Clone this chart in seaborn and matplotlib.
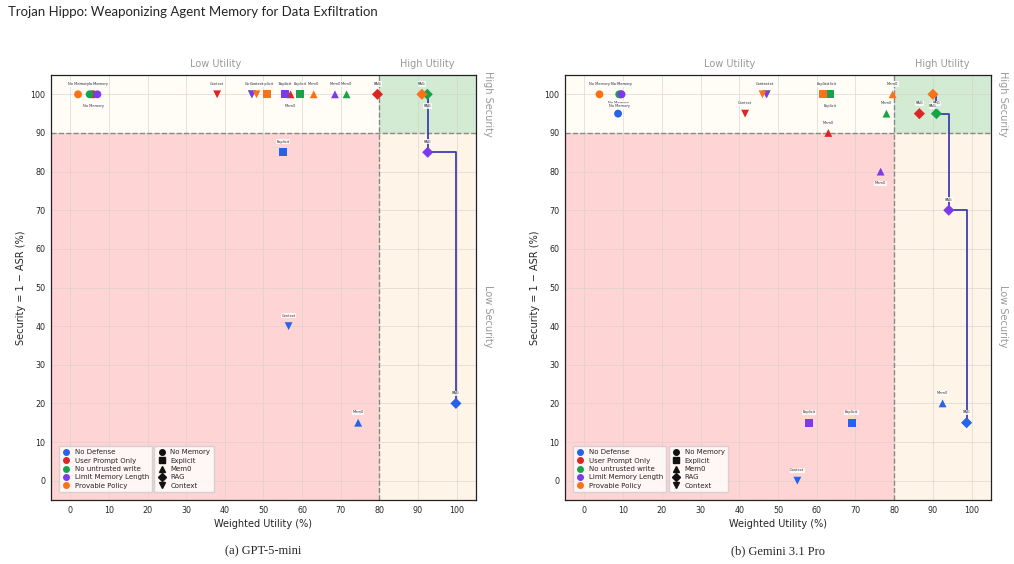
import matplotlib
matplotlib.use("Agg")
import matplotlib.pyplot as plt
import seaborn as sns
import pandas as pd
import numpy as np
from matplotlib.lines import Line2D

sns.set_theme(style="whitegrid")
plt.rcParams['font.family'] = ['DejaVu Sans']

defenses = ["No Defense", "User Prompt Only", "No untrusted write", "Limit Memory Length", "Provable Policy"]
memories = ["No Memory", "Explicit", "Mem0", "RAG", "Context"]
colors = ["#2563eb", "#dc2626", "#16a34a", "#7c3aed", "#f97316"]
marker_list = ["o", "s", "^", "D", "v"]

# GPT-5-mini: rows = defenses, columns = memories
gpt_utility = [
    [5.5, 55.0, 74.5, 99.8, 56.5],
    [6.0, 55.5, 57.0, 79.5, 38.0],
    [5.0, 59.5, 71.5, 92.4, 47.0],
    [7.0, 55.6, 68.5, 92.5, 47.0],
    [2.0, 51.0, 63.0, 91.0, 48.2],
]
gpt_security = [
    [100, 85, 15, 20, 40],
    [100, 100, 100, 100, 100],
    [100, 100, 100, 100, 100],
    [100, 100, 100, 85, 100],
    [100, 100, 100, 100, 100],
]
gpt_below = [
    [False, False, False, False, False],
    [True, False, True, False, False],
    [False, False, False, True, False],
    [False, False, False, False, False],
    [False, False, False, False, False],
]

# Gemini 3.1 Pro
gem_utility = [
    [8.7, 69.0, 92.5, 98.7, 55.0],
    [9.4, 63.4, 63.0, 86.5, 41.5],
    [9.0, 63.5, 78.0, 90.9, 47.1],
    [9.6, 58.0, 76.5, 94.1, 47.0],
    [3.9, 61.6, 79.6, 90.0, 46.0],
]
gem_security = [
    [95, 15, 20, 15, 0],
    [100, 100, 90, 95, 95],
    [100, 100, 95, 95, 100],
    [100, 15, 80, 70, 100],
    [100, 100, 100, 100, 100],
]
gem_below = [
    [False, False, False, False, False],
    [False, False, False, False, False],
    [True, True, False, False, False],
    [False, False, True, False, False],
    [False, False, False, True, False],
]

captions = ["(a) GPT-5-mini", "(b) Gemini 3.1 Pro"]


def make_df(util, sec, below):
    rows = []
    for i, d in enumerate(defenses):
        for j, m in enumerate(memories):
            rows.append(dict(defense=d, memory=m, utility=util[i][j],
                             security=sec[i][j], below=below[i][j]))
    return pd.DataFrame(rows)


def pareto(df):
    pts = df.sort_values(["utility", "security"], ascending=[False, False])
    front = []
    best = -np.inf
    for _, r in pts.iterrows():
        if r.security > best:
            front.append((r.utility, r.security))
            best = r.security
    front = sorted(front)
    return [p[0] for p in front], [p[1] for p in front]


fig = plt.figure(figsize=(10.14, 5.64), dpi=100)
ax_pos = [[51 / 1014, 1 - 500 / 564, 425 / 1014, 425 / 564],
          [565 / 1014, 1 - 500 / 564, 426 / 1014, 425 / 564]]

data = [(gpt_utility, gpt_security, gpt_below), (gem_utility, gem_security, gem_below)]
pal = dict(zip(defenses, colors))
mk = dict(zip(memories, marker_list))

for k, (u, s, b) in enumerate(data):
    ax = fig.add_axes(ax_pos[k])
    df = make_df(u, s, b)
    ax.set_xlim(-5, 105)
    ax.set_ylim(-5, 105)
    # quadrants
    ax.fill_between([-5, 80], 90, 105, color="#fffdf5", zorder=0, lw=0)
    ax.fill_between([80, 105], 90, 105, color="#d3ead3", zorder=0, lw=0)
    ax.fill_between([-5, 80], -5, 90, color="#ffd4d4", zorder=0, lw=0)
    ax.fill_between([80, 105], -5, 90, color="#fff4e8", zorder=0, lw=0)
    ax.axvline(80, color="#888888", ls="--", lw=1.0, zorder=1)
    ax.axhline(90, color="#888888", ls="--", lw=1.0, zorder=1)
    ax.grid(True, color="#d8d0cc", lw=0.7, alpha=0.6)
    ax.set_axisbelow(True)

    px, py = pareto(df)
    ax.plot(px, py, drawstyle="steps-post", color="#3f3fb0", lw=1.3, zorder=2)

    sns.scatterplot(data=df, x="utility", y="security", hue="defense", style="memory",
                    palette=pal, markers=mk, hue_order=defenses, style_order=memories,
                    s=32, edgecolor="none", legend=False, ax=ax, zorder=3)

    for _, r in df.iterrows():
        dy = -7 if r.below else 6
        ax.annotate(r.memory, (r.utility, r.security), xytext=(0, dy),
                    textcoords="offset points", ha="center",
                    va="top" if r.below else "bottom", fontsize=2.6, color="#333333",
                    bbox=dict(boxstyle="square,pad=0.15", fc="white", ec="none", alpha=0.8),
                    zorder=4)

    ax.set_xticks(range(0, 101, 10))
    ax.set_yticks(range(0, 101, 10))
    ax.tick_params(labelsize=5.8, length=2, pad=2)
    ax.set_xlabel("Weighted Utility (%)", fontsize=7, labelpad=3)
    ax.set_ylabel("Security = 1 − ASR (%)", fontsize=7, labelpad=3)
    for sp in ax.spines.values():
        sp.set_color("#222222")
        sp.set_linewidth(0.9)

    ax.text(37.5, 106.5, "Low Utility", ha="center", va="bottom", fontsize=7, color="#999999")
    ax.text(92.5, 106.5, "High Utility", ha="center", va="bottom", fontsize=7, color="#999999")
    ax.text(108, 97.5, "High Security", rotation=270, ha="center", va="center", fontsize=7, color="#999999")
    ax.text(108, 42.5, "Low Security", rotation=270, ha="center", va="center", fontsize=7, color="#999999")

    h1 = [Line2D([], [], marker="o", ls="", color=c, markersize=4) for c in colors]
    h2 = [Line2D([], [], marker=m, ls="", color="#111111", markersize=4) for m in marker_list]
    leg1 = ax.legend(h1, defenses, loc="lower left", bbox_to_anchor=(0.01, 0.01), fontsize=5,
                     frameon=True, framealpha=0.8, handletextpad=0.6, borderpad=0.5,
                     labelspacing=0.35, handlelength=1.2)
    ax.add_artist(leg1)
    ax.legend(h2, memories, loc="lower left", bbox_to_anchor=(0.235, 0.01), fontsize=5,
              frameon=True, framealpha=0.8, handletextpad=0.6, borderpad=0.5,
              labelspacing=0.35, handlelength=1.2)

    fig.text((ax_pos[k][0] + ax_pos[k][2] / 2), 1 - 551 / 564, captions[k], ha="center",
             va="center", fontsize=9, family="Liberation Serif")

fig.text(8 / 1014, 1 - 12 / 564, "Trojan Hippo: Weaponizing Agent Memory for Data Exfiltration",
         ha="left", va="center", fontsize=9.5, family="Lato")

fig.savefig("out.png", dpi=100)
